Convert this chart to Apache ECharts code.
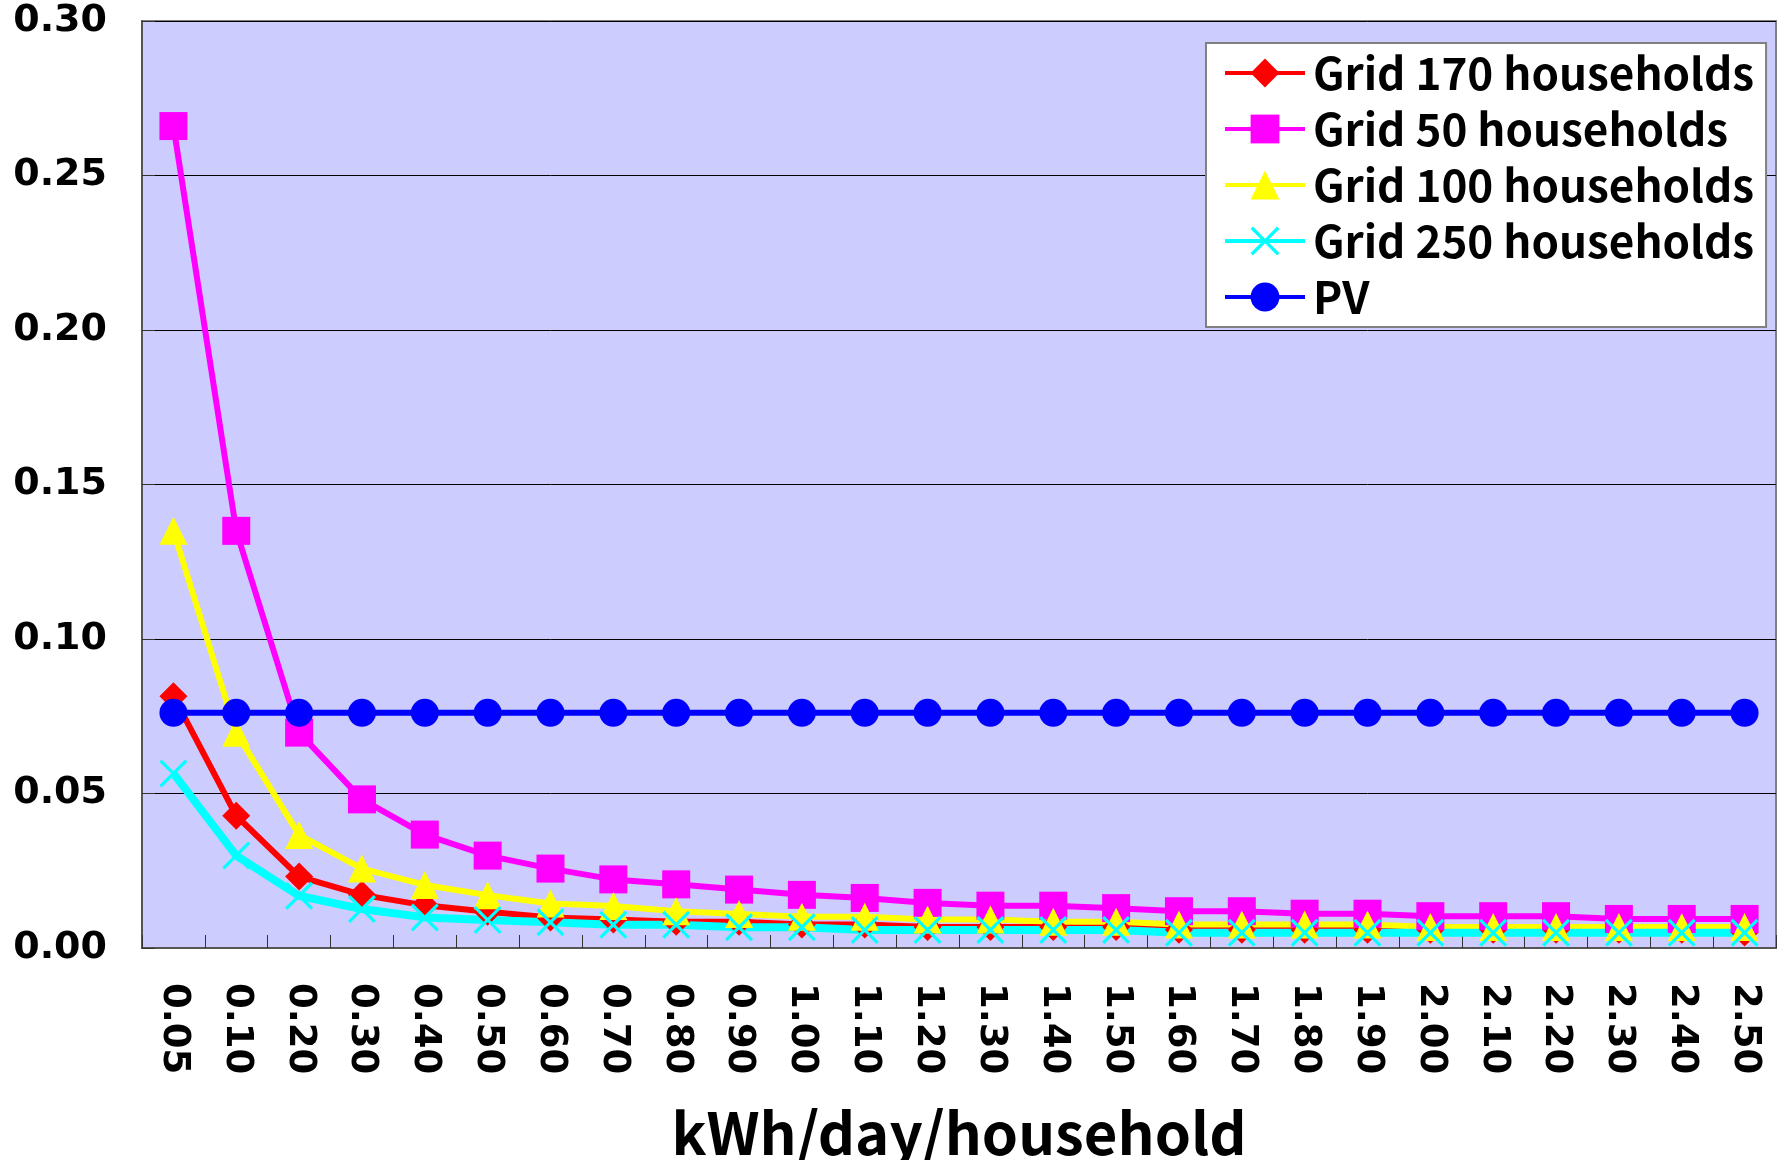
<!DOCTYPE html>
<html>
<head>
<meta charset="utf-8">
<script src="https://cdn.jsdelivr.net/npm/echarts@6/dist/echarts.min.js"></script>
<style>
  html, body { margin: 0; padding: 0; background: #ffffff; overflow: hidden; }
  #chart { width: 1784px; height: 1160px; }
</style>
</head>
<body>
<div id="chart"></div>
<script>
// Daily consumption per household (kWh/day/household)
const categories = ['0.05', '0.10', '0.20', '0.30', '0.40', '0.50', '0.60', '0.70', '0.80', '0.90',
  '1.00', '1.10', '1.20', '1.30', '1.40', '1.50', '1.60', '1.70', '1.80', '1.90',
  '2.00', '2.10', '2.20', '2.30', '2.40', '2.50'];

const grid170 = [0.0815, 0.0428, 0.0231, 0.0172, 0.0138, 0.0117, 0.0099, 0.0092, 0.0085, 0.0085,
  0.0076, 0.0076, 0.0068, 0.0068, 0.0068, 0.0068, 0.0059, 0.0059, 0.0059, 0.0059,
  0.0059, 0.0059, 0.0059, 0.0059, 0.0059, 0.0050];

const grid50 = [0.266, 0.135, 0.0697, 0.0481, 0.0367, 0.0299, 0.0257, 0.0222, 0.0206, 0.0189,
  0.0172, 0.0162, 0.0146, 0.0137, 0.0137, 0.0129, 0.0119, 0.0119, 0.0111, 0.0111,
  0.0103, 0.0103, 0.0103, 0.0094, 0.0094, 0.0094];

const grid100 = [0.135, 0.0697, 0.0366, 0.0257, 0.0204, 0.0171, 0.0144, 0.0136, 0.0119, 0.0110,
  0.0101, 0.0101, 0.0092, 0.0092, 0.0085, 0.0085, 0.0076, 0.0076, 0.0076, 0.0076,
  0.0068, 0.0068, 0.0068, 0.0068, 0.0068, 0.0068];

const grid250 = [0.0565, 0.0299, 0.0169, 0.0126, 0.0099, 0.0091, 0.0083, 0.0075, 0.0075, 0.0067,
  0.0067, 0.0058, 0.0058, 0.0058, 0.0058, 0.0058, 0.0049, 0.0049, 0.0049, 0.0049,
  0.0049, 0.0049, 0.0049, 0.0049, 0.0049, 0.0049];

const pv = [0.0761, 0.0761, 0.0761, 0.0761, 0.0761, 0.0761, 0.0761, 0.0761, 0.0761, 0.0761,
  0.0761, 0.0761, 0.0761, 0.0761, 0.0761, 0.0761, 0.0761, 0.0761, 0.0761, 0.0761,
  0.0761, 0.0761, 0.0761, 0.0761, 0.0761, 0.0761];

const yTicks = { min: 0, max: 0.30, step: 0.05 };

// thin "x" cross marker
const crossSymbol = 'path://M0,0.8L0.8,0L5,4.2L9.2,0L10,0.8L5.8,5L10,9.2L9.2,10L5,5.8L0.8,10L0,9.2L4.2,5Z';

const axisFont = 'DejaVu Sans';
const textFont = '"Noto Sans CJK JP", "Noto Sans", sans-serif';

function lineSeries(name, data, color, symbol, width) {
  return {
    name: name,
    type: 'line',
    data: data,
    symbol: symbol,
    symbolSize: 28,
    lineStyle: { color: color, width: width },
    itemStyle: { color: color, borderWidth: 0 },
    emphasis: { disabled: true }
  };
}

const chart = echarts.init(document.getElementById('chart'), null, { renderer: 'canvas' });

chart.setOption({
  animation: false,
  backgroundColor: '#ffffff',
  grid: {
    left: 142, right: 8, top: 21, bottom: 212,
    outerBoundsMode: 'none',
    containLabel: false,
    show: true,
    backgroundColor: '#CCCCFF',
    borderColor: '#808080',
    borderWidth: 2
  },
  legend: {
    orient: 'vertical',
    left: 1206,
    top: 43,
    backgroundColor: '#ffffff',
    borderColor: '#808080',
    borderWidth: 2,
    padding: [8, 12, 8, 17],
    itemWidth: 80,
    itemHeight: 36,
    itemGap: 12,
    lineStyle: { width: 4 },
    textStyle: {
      fontFamily: textFont,
      fontWeight: 'bold',
      fontSize: 44,
      lineHeight: 44,
      color: '#000000',
      padding: [0, 0, 0, 3]
    },
    data: ['Grid 170 households', 'Grid 50 households', 'Grid 100 households', 'Grid 250 households', 'PV']
  },
  xAxis: {
    type: 'category',
    data: categories,
    boundaryGap: true,
    name: 'kWh/day/household',
    nameLocation: 'middle',
    nameGap: 156,
    nameTextStyle: {
      fontFamily: textFont,
      fontWeight: 'bold',
      fontSize: 58,
      color: '#000000'
    },
    axisLine: { show: true, lineStyle: { color: '#555555', width: 2 } },
    axisTick: { show: true, inside: true, length: 13, lineStyle: { color: '#333333', width: 1 } },
    axisLabel: {
      interval: 0,
      rotate: -90,
      margin: 35,
      fontFamily: axisFont,
      fontWeight: 'bold',
      fontSize: 37,
      color: '#000000'
    },
    splitLine: { show: false }
  },
  yAxis: {
    type: 'value',
    min: yTicks.min,
    max: yTicks.max,
    interval: yTicks.step,
    axisLine: { show: true, lineStyle: { color: '#555555', width: 2 } },
    axisTick: { show: true, inside: true, length: 13, lineStyle: { color: '#333333', width: 1 } },
    axisLabel: {
      margin: 35,
      fontFamily: axisFont,
      fontWeight: 'bold',
      fontSize: 38,
      color: '#000000',
      formatter: function (v) { return v.toFixed(2); }
    },
    splitLine: { show: true, lineStyle: { color: '#000000', width: 1 } }
  },
  series: [
    lineSeries('Grid 170 households', grid170, '#FF0000', 'diamond', 6),
    lineSeries('Grid 50 households', grid50, '#FF00FF', 'rect', 6),
    lineSeries('Grid 100 households', grid100, '#FFFF00', 'triangle', 6),
    lineSeries('Grid 250 households', grid250, '#00FFFF', crossSymbol, 8),
    lineSeries('PV', pv, '#0000FF', 'circle', 6)
  ]
});
</script>
</body>
</html>
